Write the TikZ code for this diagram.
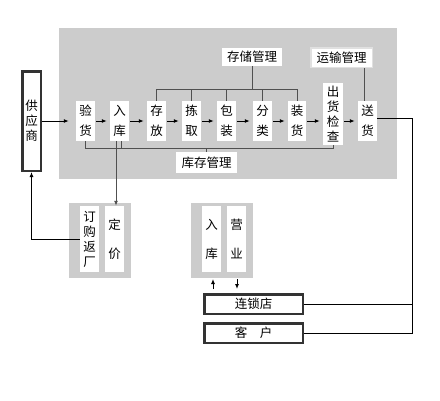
\documentclass[tikz,border=0pt]{standalone}
\usepackage{fontspec}
\newfontfamily\cjk{Noto Sans CJK SC}
\usetikzlibrary{arrows.meta,calc}
\definecolor{panelgray}{HTML}{CCCCCC}
\definecolor{linegray}{HTML}{505050}
\begin{document}
\begin{tikzpicture}[x=1pt,y=-1pt,
  panel/.style={fill=panelgray,draw=none,inner sep=0pt},
  cell/.style={fill=white,draw=none,inner sep=0pt,minimum width=19pt,minimum height=40pt,align=center,font=\cjk\fontsize{12.5}{20}\selectfont},
  tall/.style={cell,font=\cjk\fontsize{12.5}{15}\selectfont},
  wide/.style={cell,minimum height=66pt,font=\cjk\fontsize{12.5}{29}\selectfont},
  tag/.style={fill=white,draw=none,inner sep=0pt,font=\cjk\fontsize{12.5}{15}\selectfont},
  frame/.style={fill=white,draw=black!80,line width=2.5pt,inner sep=0pt,align=center,font=\cjk\fontsize{12.5}{15}\selectfont},
  flow/.style={-{Latex[length=5pt,width=4pt]},black,line width=1pt},
  conn/.style={linegray,line width=1pt},
]
\fill[white] (0,0) rectangle (440,400);
\useasboundingbox (0,0) rectangle (440,400);
% panels
\node[panel,minimum width=338pt,minimum height=151pt] (main) at (228,103.5) {};
\node[panel,minimum width=62pt,minimum height=75pt] (g1) at (100,240.5) {};
\node[panel,minimum width=62pt,minimum height=75pt] (g2) at (222,240.5) {};
% supplier
\node[frame,minimum width=18.5pt,minimum height=99.5pt] (gys) at (31.5,121) {供\\应\\商};
% process cells
\node[cell] (yh) at (85.5,121) {验\\货};
\node[cell] (rk) at (119.5,121) {入\\库};
\node[cell] (cf) at (156.5,121) {存\\放};
\node[cell] (jq) at (191.5,121) {拣\\取};
\node[cell] (bz) at (226.5,121) {包\\装};
\node[cell] (fl) at (262.5,121) {分\\类};
\node[cell,minimum width=18pt] (zh) at (297,121) {装\\货};
\node[tall,minimum width=20pt,minimum height=62pt] (ck) at (333,114) {出\\货\\检\\查};
\node[cell] (sh) at (367.5,121) {送\\货};
% management tags
\node[tag,minimum width=60pt,minimum height=18pt] (ccgl) at (252,57) {存储管理};
\node[tag,draw=white!88!black,line width=1.5pt,minimum width=61.5pt,minimum height=19.5pt] (ysgl) at (341.5,57.5) {运输管理};
\node[tag,minimum width=61pt,minimum height=21pt] (kcgl) at (206.5,162.5) {库存管理};
% lower groups
\node[tall,minimum height=66pt] (dg) at (89.5,239) {订\\购\\返\\厂};
\node[wide] (dj) at (114.5,239) {定\\价};
\node[wide] (rk2) at (211.5,239) {入\\库};
\node[wide] (yy) at (236.5,239) {营\\业};
\node[frame,minimum width=98.5pt,minimum height=19.5pt] (ls) at (253.5,304) {连锁店};
\node[frame,minimum width=98.5pt,minimum height=19.5pt] (kh) at (253.5,333) {客　户};
% main flow
\draw[flow,shorten >=7pt] (gys.east |- yh) -- (yh.west);
\foreach \a/\b in {yh/rk,rk/cf,cf/jq,jq/bz,bz/fl,fl/zh,zh/ck,ck/sh}
  \draw[flow,shorten <=1pt,shorten >=3pt] (\a.east |- yh) -- (\b.west |- yh);
% storage management bar
\coordinate (sbar) at (0,89);
\draw[conn] (cf.north) -- (cf.north |- sbar) -- (zh.north |- sbar) -- (zh.north);
\foreach \n in {jq,bz,fl} \draw[conn] (\n.north) -- (\n.north |- sbar);
\draw[conn] (ccgl.south) -- (ccgl.south |- sbar);
\draw[conn] ($(sh.north)+(-3.5,0)$) -- ++(0,-33);
% inventory management bar
\coordinate (ibar) at (0,148);
\draw[conn] (yh.south) -- (yh.south |- ibar) -- (ck.south |- ibar) -- (ck.south);
\draw[conn] ($(rk.south)+(1.5,0)$) -- ++(0,7);
\draw[conn] (kcgl.north) -- (kcgl.north |- ibar);
% 入库 -> 定价
\draw[flow,linegray] ($(rk.south)+(-3.5,0)$) -- ($(dj.north)+(1.5,0)$);
% 订购返厂 -> 供应商
\draw[flow] (dg.west) -| (gys.south);
% delivery to shops and customers
\coordinate (rt) at (412,0);
\draw[conn,black] ($(sh.east)+(0,-3)$) -- ($(sh.east -| rt)+(0,-3)$) |- (kh.east);
\draw[conn,black] (ls.east) -- (ls.east -| rt);
% small arrows
\draw[flow] ($(ls.north)+(-40.5,-4)$) -- ++(0,-10);
\draw[flow] ($(ls.north)+(-16.5,-14)$) -- ++(0,10);
\end{tikzpicture}
\end{document}
